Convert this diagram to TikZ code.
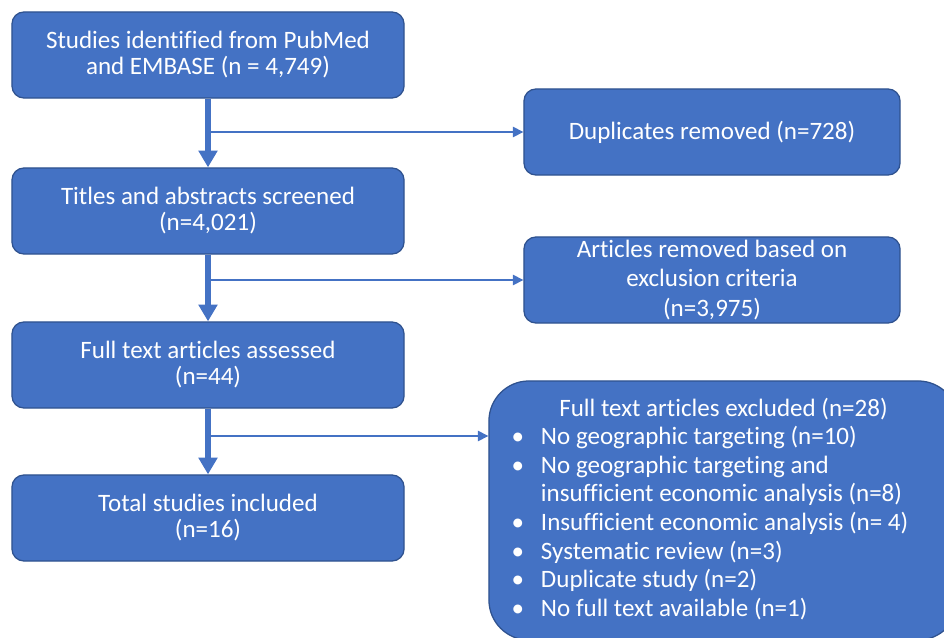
\documentclass[tikz,border=0pt]{standalone}
\usepackage{fontspec}
\setmainfont{Carlito}[Ligatures=NoCommon]
\usetikzlibrary{arrows.meta}

\definecolor{boxblue}{HTML}{4472C4}
\definecolor{boxedge}{HTML}{2F528F}

\begin{document}
\begin{tikzpicture}[x=0.025cm, y=-0.025cm,
  box/.style={draw=boxedge, line width=0.9pt, fill=boxblue, rounded corners=0.3cm,
    text=white, align=center, inner sep=0pt, minimum height=2.15cm,
    font=\fontsize{17.8}{18.5}\selectfont},
  mainbox/.style={box, minimum width=9.8cm},
  sidebox/.style={box, minimum width=9.4cm},
  flow/.style={draw=boxblue, line width=4.3pt, -{Triangle[width=0.46cm,length=0.42cm]}},
  branch/.style={draw=boxblue, line width=1pt, -{Triangle[width=0.26cm,length=0.26cm]}}]
% Parameters
\def\colx{208}
\def\sidex{712}

\useasboundingbox (0,0) rectangle (944,637);
\clip (0,0) rectangle (944,637);

% === Main column ===
\foreach \i/\y/\txt in {1/55/{Studies identified from PubMed\\and EMBASE (n = 4,749)},
                         2/211/{Titles and abstracts screened\\(n=4,021)},
                         3/365/{Full text articles assessed\\(n=44)},
                         4/518/{Total studies included\\(n=16)}}{
  \node[mainbox] (b\i) at (\colx,\y) {\txt};
}

% === Removed records ===
\node[sidebox] (dup) at (\sidex,132) {Duplicates removed (n=728)};
\node[sidebox, font=\fontsize{17.8}{21}\selectfont]
  (excl) at (\sidex,280) {Articles removed based on\\exclusion criteria\\(n=3,975)};

% === Excluded full texts ===
\node[box, rounded corners=1cm, minimum width=11.725cm, minimum height=6.475cm,
  font=\fontsize{17.8}{20.3}\selectfont]
  (full) at (723.5,510.5) {%
  \begin{tabular}{@{}l@{\hspace{12pt}}l@{\hspace{0.675cm}}}
    \multicolumn{2}{c}{Full text articles excluded (n=28)}\\
    \textbullet & No geographic targeting (n=10)\\
    \textbullet & No geographic targeting and\\
                & insufficient economic analysis (n=8)\\
    \textbullet & Insufficient economic analysis (n= 4)\\
    \textbullet & Systematic review (n=3)\\
    \textbullet & Duplicate study (n=2)\\
    \textbullet & No full text available (n=1)
  \end{tabular}};

% === Connections ===
% main flow
\foreach \i in {1,2,3}{
  \pgfmathtruncatemacro\j{\i+1}
  \draw[flow] (b\i) -- (b\j);
}

% branches to the right
\coordinate (j3) at (\colx,436);
\draw[branch] (b1.south |- dup.west) -- (dup.west);
\draw[branch] (b2.south |- excl.west) -- (excl.west);
\draw[branch] (j3) -- (j3 -| full.west);
\end{tikzpicture}
\end{document}
